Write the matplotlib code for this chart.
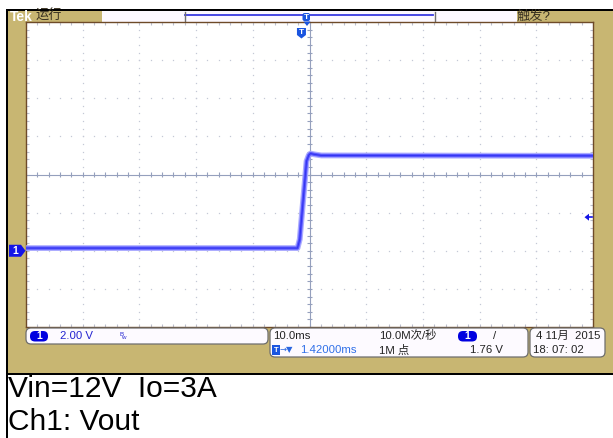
import matplotlib
matplotlib.use('Agg')
import matplotlib.pyplot as plt
from matplotlib.patches import Rectangle, FancyBboxPatch, Polygon
import numpy as np

# ---------------- data ----------------
time_ms = [-49.0, -0.7, -0.3, 0.9, 1.3, 1.6, 2.2, 3.5, 52.0]
vout_v = [0.14, 0.14, 0.6, 4.7, 5.02, 5.1, 5.06, 5.0, 4.98]
volts_per_div = 2.0
ms_per_div = 10.0
trigger_delay_ms = 1.42
ground_div = -2.0
trigger_level_v = 1.76
caption_lines = ["Vin=12V  Io=3A", "Ch1: Vout"]

W, H = 613, 438
TAN = '#c8b672'
BLUE = '#1414e6'
FONT = ['Liberation Sans', 'Noto Sans CJK SC', 'DejaVu Sans']
plt.rcParams['font.family'] = FONT

fig = plt.figure(figsize=(W / 100, H / 100), dpi=100)
fig.patch.set_facecolor('white')
ax0 = fig.add_axes([0, 0, 1, 1])
ax0.set_xlim(0, W)
ax0.set_ylim(H, 0)
ax0.axis('off')

# frame
ax0.add_patch(Rectangle((8, 11), W - 8, 362, color=TAN, lw=0))
ax0.add_patch(Rectangle((6, 9), W - 6, 2, color='black', lw=0))
ax0.add_patch(Rectangle((6, 9), 2, H - 9, color='black', lw=0))
ax0.add_patch(Rectangle((6, 373), W - 6, 2, color='black', lw=0))

# top strip
ax0.text(9.5, 16.8, 'Tek', color='white', fontsize=10, fontweight='bold', va='center', ha='left')
ax0.text(35.5, 16.5, '运行', color='#3a3222', fontsize=9.5, va='center', ha='left')
ax0.add_patch(Rectangle((102, 11), 415, 10.5, color='#fdf9ff', lw=0))
ax0.plot([185, 433], [15, 15], color='#3a3ae0', lw=1.3)
ax0.plot([185, 185], [12, 20.5], color='#707070', lw=1)
ax0.plot([435, 435], [12, 20.5], color='#707070', lw=1)
ax0.text(517, 16.5, '触发?', color='#3a3222', fontsize=9.5, va='center', ha='left')

# graticule axes
gx0, gx1, gy0, gy1 = 26, 593, 22, 327
rect = [gx0 / W, 1 - gy1 / H, (gx1 - gx0) / W, (gy1 - gy0) / H]
axg = fig.add_axes(rect)
axg.set_xlim(0, 10)
axg.set_ylim(0, 8)
axg.set_facecolor('white')
for s in axg.spines.values():
    s.set_color('#6e4a28')
    s.set_linewidth(1.0)
fine_x = np.arange(0, 10.001, 0.2)
fine_y = np.arange(0, 8.001, 0.2)
axg.set_xticks(fine_x)
axg.set_yticks(fine_y)
axg.tick_params(direction='in', length=2.5, width=0.8, colors='#bcc0cf',
                top=True, right=True, labelbottom=False, labelleft=False)
dot_c = '#c4c8d6'
for gx in range(1, 10):
    if gx == 5:
        continue
    axg.plot(np.full_like(fine_y, gx), fine_y, ls='none', marker='s', ms=0.9, color=dot_c, mew=0)
for gy in range(1, 8):
    if gy == 4:
        continue
    axg.plot(fine_x, np.full_like(fine_x, gy), ls='none', marker='s', ms=0.9, color=dot_c, mew=0)
cl = '#95a0bd'
axg.axhline(4, color=cl, lw=0.8)
axg.axvline(5, color=cl, lw=0.8)
axg.vlines(fine_x, 4 - 0.065, 4 + 0.065, color=cl, lw=0.8)
axg.hlines(fine_y, 5 - 0.05, 5 + 0.05, color=cl, lw=0.8)

# data axes
axd = fig.add_axes(rect)
axd.patch.set_alpha(0)
axd.set_xlim(trigger_delay_ms - 5 * ms_per_div, trigger_delay_ms + 5 * ms_per_div)
axd.set_ylim((-4 - ground_div) * volts_per_div, (4 - ground_div) * volts_per_div)
axd.axis('off')
axd.plot(time_ms, vout_v, color='#a4a4ff', lw=4.2, alpha=0.9, solid_joinstyle='round')
axd.plot(time_ms, vout_v, color='#5a5aff', lw=2.4, solid_joinstyle='round')
axd.plot(time_ms, vout_v, color='#3434f0', lw=0.8, solid_joinstyle='round')

# overlay for markers
axo = fig.add_axes([0, 0, 1, 1])
axo.patch.set_alpha(0)
axo.set_xlim(0, W)
axo.set_ylim(H, 0)
axo.axis('off')

# ch1 ground marker
gpix = (gy0 + gy1) / 2 - ground_div * (gy1 - gy0) / 8
axo.add_patch(Polygon([(9, gpix - 6), (21, gpix - 6), (25.5, gpix), (21, gpix + 6), (9, gpix + 6)],
                      closed=True, color=BLUE, lw=0))
axo.text(15, gpix + 0.5, '1', color='white', fontsize=7.5, fontweight='bold', ha='center', va='center')

# trigger level marker (right)
tpix = (gy0 + gy1) / 2 - (trigger_level_v / volts_per_div + ground_div) * (gy1 - gy0) / 8
axo.add_patch(Polygon([(584.5, tpix), (589, tpix - 3.5), (589, tpix + 3.5)], closed=True, color=BLUE, lw=0))
axo.plot([588, 592], [tpix, tpix], color=BLUE, lw=1.2)

# trigger position markers
tx = (gx0 + gx1) / 2 - trigger_delay_ms / ms_per_div * (gx1 - gx0) / 10
axo.add_patch(FancyBboxPatch((302.5, 13), 7.5, 8, boxstyle='round,pad=0,rounding_size=2', color='#1a55e0', lw=0))
axo.text(306.2, 17.2, 'T', color='white', fontsize=6, fontweight='bold', ha='center', va='center')
axo.add_patch(Polygon([(303.5, 21.5), (310.5, 21.5), (307, 26)], closed=True, color='#1a55e0', lw=0))
axo.add_patch(Polygon([(tx - 4.5, 28), (tx + 4.5, 28), (tx + 4.5, 35), (tx, 38.5), (tx - 4.5, 35)],
                      closed=True, color='#1a55e0', lw=0))
axo.text(tx, 32.3, 'T', color='white', fontsize=6, fontweight='bold', ha='center', va='center')

# bottom info boxes
box_kw = dict(boxstyle='round,pad=0,rounding_size=5', fc='#fdfaff', ec='#6e6e6e', lw=0.9)
axo.add_patch(FancyBboxPatch((26, 328), 242, 16, **box_kw))
axo.add_patch(FancyBboxPatch((270, 328), 258, 29, **box_kw))
axo.add_patch(FancyBboxPatch((530, 328), 75, 29, **box_kw))

r1, r2 = 336, 350
fs = 8.2
TXT = '#222222'
axo.add_patch(FancyBboxPatch((30, 331), 18, 10.5, boxstyle='round,pad=0,rounding_size=5', color='#0000e0', lw=0))
axo.text(39, r1, '1', color='white', fontsize=7.5, fontweight='bold', ha='center', va='center')
axo.text(60, r1, '2.00 V', color='#2424d0', fontsize=fs, ha='left', va='center')
axo.text(119, r1 - 2, 'B', color='#2424d0', fontsize=4.5, ha='left', va='center')
axo.text(121, r1 + 1.5, 'w', color='#2424d0', fontsize=4.5, ha='left', va='center')

axo.text(273, r1, '10.0ms', color=TXT, fontsize=fs, ha='left', va='center')
axo.add_patch(Rectangle((272, 344.5), 7.5, 10, color='#1a55e0', lw=0))
axo.text(275.8, r2, 'T', color='white', fontsize=5.5, fontweight='bold', ha='center', va='center')
axo.text(280, r2, '→▼', color='#2a66e0', fontsize=6, ha='left', va='center', family=['DejaVu Sans'])
axo.text(300, r2, '%.5fms' % trigger_delay_ms, color='#3070e8', fontsize=fs, ha='left', va='center')

axo.text(379, r1, '10.0M次/秒', color=TXT, fontsize=fs, ha='left', va='center')
axo.text(379, r2, '1M 点', color=TXT, fontsize=fs, ha='left', va='center')
axo.add_patch(FancyBboxPatch((458, 331), 19, 10.5, boxstyle='round,pad=0,rounding_size=5', color='#0000e0', lw=0))
axo.text(467.5, r1, '1', color='white', fontsize=7.5, fontweight='bold', ha='center', va='center')
axo.text(493, r1, '/', color=TXT, fontsize=fs, ha='left', va='center')
axo.text(470, r2, '%.2f V' % trigger_level_v, color=TXT, fontsize=fs, ha='left', va='center')

axo.text(536, r1, '4 11月  2015', color=TXT, fontsize=fs, ha='left', va='center')
axo.text(533, r2, '18: 07: 02', color=TXT, fontsize=fs, ha='left', va='center')

# caption below the screenshot
axo.text(8, 397, caption_lines[0], color='black', fontsize=21.5, ha='left', va='baseline',
         family=['Liberation Sans'])
axo.text(8, 430, caption_lines[1], color='black', fontsize=21.5, ha='left', va='baseline',
         family=['Liberation Sans'])

fig.savefig('out.png', dpi=100)
